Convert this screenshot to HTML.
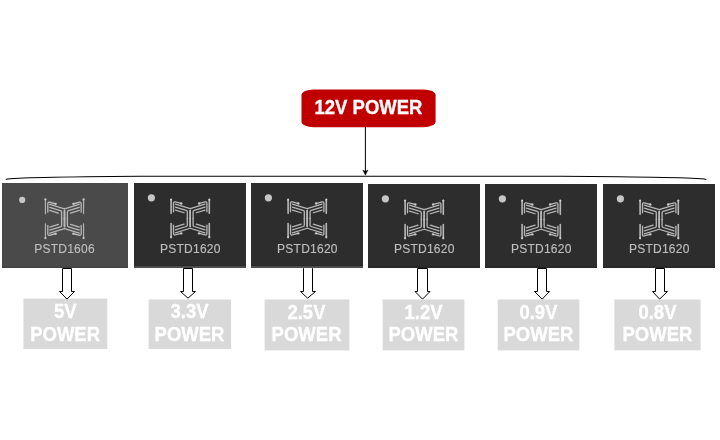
<!DOCTYPE html>
<html><head><meta charset="utf-8"><title>Power tree</title>
<style>html,body{margin:0;padding:0;background:#fff;width:720px;height:440px;overflow:hidden;font-family:"Liberation Sans",sans-serif;}svg{display:block;will-change:transform}</style>
</head><body>
<svg width="720" height="440" viewBox="0 0 720 440">
<rect x="301.5" y="89.4" width="134.1" height="37.9" rx="12" ry="5.8" fill="#c00000"/>
<text transform="translate(368.5,113.9) scale(1,1.077)" font-family="Liberation Sans" font-weight="bold" font-size="18.5" fill="#fff" stroke="#fff" stroke-width="0.3" text-anchor="middle">12V POWER</text>
<line x1="365.4" y1="127" x2="365.4" y2="172" stroke="#000" stroke-width="1"/>
<path d="M362.8,170 L365.4,175.2 L368,170 L365.4,171.3 Z" fill="#000" stroke="#000" stroke-width="0.4" stroke-linejoin="round"/>
<path d="M5.8,179.4 C14,177.7 50,176.85 140,176.3 L560,176.3 C660,176.9 695,177.5 706.3,179.4" fill="none" stroke="#000" stroke-width="1.05"/>
<rect x="2" y="183" width="126" height="85" fill="#4a4a4a"/>
<rect x="2" y="266.5" width="126" height="1.5" fill="#424242"/>
<circle cx="22.2" cy="199.9" r="3.1" fill="#c6c6c6"/>
<g fill="none" stroke="#b8b8b8" stroke-linecap="round" stroke-linejoin="round"><g transform="translate(64.5,218.75) scale(1,1)"><path d="M-19.1,-19.2 V-5.1" stroke-width="1.1"/><path d="M-16.7,-6.6 V-15.1 Q-16.7,-16.9 -14.9,-16.5 L-9.3,-15.0" stroke-width="1.3"/><path d="M-14.8,-14.4 L0,-9.8" stroke-width="1.3"/><path d="M0,-7.9 V0.1" stroke-width="1.6"/><path d="M-14.8,-11.4 L-4.0,-8.05 Q-2.9,-7.7 -2.9,-6.7 V0.1" stroke-width="1.3"/><path d="M-14.8,-8.4 L-6.1,-5.7" stroke-width="1.3"/><circle cx="-8.9" cy="-14.9" r="1.2" fill="#c8c8c8" stroke="none"/><circle cx="-19.1" cy="-19.3" r="1.15" fill="#c8c8c8" stroke="none"/></g><g transform="translate(64.5,218.75) scale(-1,1)"><path d="M-19.1,-19.2 V-5.1" stroke-width="1.1"/><path d="M-16.7,-6.6 V-15.1 Q-16.7,-16.9 -14.9,-16.5 L-9.3,-15.0" stroke-width="1.3"/><path d="M-14.8,-14.4 L0,-9.8" stroke-width="1.3"/><path d="M0,-7.9 V0.1" stroke-width="1.6"/><path d="M-14.8,-11.4 L-4.0,-8.05 Q-2.9,-7.7 -2.9,-6.7 V0.1" stroke-width="1.3"/><path d="M-14.8,-8.4 L-6.1,-5.7" stroke-width="1.3"/><circle cx="-8.9" cy="-14.9" r="1.2" fill="#c8c8c8" stroke="none"/><circle cx="-19.1" cy="-19.3" r="1.15" fill="#c8c8c8" stroke="none"/></g><g transform="translate(64.5,218.75) scale(1,-1)"><path d="M-19.1,-19.2 V-5.1" stroke-width="1.1"/><path d="M-16.7,-6.6 V-15.1 Q-16.7,-16.9 -14.9,-16.5 L-9.3,-15.0" stroke-width="1.3"/><path d="M-14.8,-14.4 L0,-9.8" stroke-width="1.3"/><path d="M0,-7.9 V0.1" stroke-width="1.6"/><path d="M-14.8,-11.4 L-4.0,-8.05 Q-2.9,-7.7 -2.9,-6.7 V0.1" stroke-width="1.3"/><path d="M-14.8,-8.4 L-6.1,-5.7" stroke-width="1.3"/><circle cx="-8.9" cy="-14.9" r="1.2" fill="#c8c8c8" stroke="none"/><circle cx="-19.1" cy="-19.3" r="1.15" fill="#c8c8c8" stroke="none"/></g><g transform="translate(64.5,218.75) scale(-1,-1)"><path d="M-19.1,-19.2 V-5.1" stroke-width="1.1"/><path d="M-16.7,-6.6 V-15.1 Q-16.7,-16.9 -14.9,-16.5 L-9.3,-15.0" stroke-width="1.3"/><path d="M-14.8,-14.4 L0,-9.8" stroke-width="1.3"/><path d="M0,-7.9 V0.1" stroke-width="1.6"/><path d="M-14.8,-11.4 L-4.0,-8.05 Q-2.9,-7.7 -2.9,-6.7 V0.1" stroke-width="1.3"/><path d="M-14.8,-8.4 L-6.1,-5.7" stroke-width="1.3"/><circle cx="-8.9" cy="-14.9" r="1.2" fill="#c8c8c8" stroke="none"/><circle cx="-19.1" cy="-19.3" r="1.15" fill="#c8c8c8" stroke="none"/></g></g>
<text x="64.5" y="253" font-family="Liberation Sans" font-size="12" letter-spacing="0.25" fill="#bebebe" stroke="#bebebe" stroke-width="0.15" text-anchor="middle">PSTD1606</text>
<rect x="134" y="183" width="112" height="85" fill="#2d2d2d"/>
<rect x="134" y="265" width="112" height="1" fill="#282828"/>
<rect x="134" y="266" width="112" height="2" fill="#4d4d4d"/>
<circle cx="151.4" cy="197.85" r="3.6" fill="#c6c6c6"/>
<g fill="none" stroke="#b8b8b8" stroke-linecap="round" stroke-linejoin="round"><g transform="translate(190.2,218.45) scale(1,1)"><path d="M-19.1,-19.2 V-5.1" stroke-width="1.6"/><path d="M-16.7,-6.6 V-15.1 Q-16.7,-16.9 -14.9,-16.5 L-9.3,-15.0" stroke-width="1.3"/><path d="M-14.8,-14.4 L0,-9.8" stroke-width="1.3"/><path d="M0,-7.9 V0.1" stroke-width="1.6"/><path d="M-14.8,-11.4 L-4.0,-8.05 Q-2.9,-7.7 -2.9,-6.7 V0.1" stroke-width="1.3"/><path d="M-14.8,-8.4 L-6.1,-5.7" stroke-width="1.3"/><circle cx="-8.9" cy="-14.9" r="1.2" fill="#c8c8c8" stroke="none"/><circle cx="-19.1" cy="-18.6" r="1.0" fill="#d0d0d0" stroke="none"/></g><g transform="translate(190.2,218.45) scale(-1,1)"><path d="M-19.1,-19.2 V-5.1" stroke-width="1.6"/><path d="M-16.7,-6.6 V-15.1 Q-16.7,-16.9 -14.9,-16.5 L-9.3,-15.0" stroke-width="1.3"/><path d="M-14.8,-14.4 L0,-9.8" stroke-width="1.3"/><path d="M0,-7.9 V0.1" stroke-width="1.6"/><path d="M-14.8,-11.4 L-4.0,-8.05 Q-2.9,-7.7 -2.9,-6.7 V0.1" stroke-width="1.3"/><path d="M-14.8,-8.4 L-6.1,-5.7" stroke-width="1.3"/><circle cx="-8.9" cy="-14.9" r="1.2" fill="#c8c8c8" stroke="none"/><circle cx="-19.1" cy="-18.6" r="1.0" fill="#d0d0d0" stroke="none"/></g><g transform="translate(190.2,218.45) scale(1,-1)"><path d="M-19.1,-19.2 V-5.1" stroke-width="1.6"/><path d="M-16.7,-6.6 V-15.1 Q-16.7,-16.9 -14.9,-16.5 L-9.3,-15.0" stroke-width="1.3"/><path d="M-14.8,-14.4 L0,-9.8" stroke-width="1.3"/><path d="M0,-7.9 V0.1" stroke-width="1.6"/><path d="M-14.8,-11.4 L-4.0,-8.05 Q-2.9,-7.7 -2.9,-6.7 V0.1" stroke-width="1.3"/><path d="M-14.8,-8.4 L-6.1,-5.7" stroke-width="1.3"/><circle cx="-8.9" cy="-14.9" r="1.2" fill="#c8c8c8" stroke="none"/><circle cx="-19.1" cy="-18.6" r="1.0" fill="#d0d0d0" stroke="none"/></g><g transform="translate(190.2,218.45) scale(-1,-1)"><path d="M-19.1,-19.2 V-5.1" stroke-width="1.6"/><path d="M-16.7,-6.6 V-15.1 Q-16.7,-16.9 -14.9,-16.5 L-9.3,-15.0" stroke-width="1.3"/><path d="M-14.8,-14.4 L0,-9.8" stroke-width="1.3"/><path d="M0,-7.9 V0.1" stroke-width="1.6"/><path d="M-14.8,-11.4 L-4.0,-8.05 Q-2.9,-7.7 -2.9,-6.7 V0.1" stroke-width="1.3"/><path d="M-14.8,-8.4 L-6.1,-5.7" stroke-width="1.3"/><circle cx="-8.9" cy="-14.9" r="1.2" fill="#c8c8c8" stroke="none"/><circle cx="-19.1" cy="-18.6" r="1.0" fill="#d0d0d0" stroke="none"/></g></g>
<text x="190.35" y="252.8" font-family="Liberation Sans" font-size="12" letter-spacing="0.25" fill="#bebebe" stroke="#bebebe" stroke-width="0.15" text-anchor="middle">PSTD1620</text>
<rect x="251" y="183" width="112" height="85" fill="#2d2d2d"/>
<rect x="251" y="265" width="112" height="1" fill="#282828"/>
<rect x="251" y="266" width="112" height="2" fill="#4d4d4d"/>
<circle cx="268.4" cy="197.85" r="3.6" fill="#c6c6c6"/>
<g fill="none" stroke="#b8b8b8" stroke-linecap="round" stroke-linejoin="round"><g transform="translate(307.2,218.45) scale(1,1)"><path d="M-19.1,-19.2 V-5.1" stroke-width="1.6"/><path d="M-16.7,-6.6 V-15.1 Q-16.7,-16.9 -14.9,-16.5 L-9.3,-15.0" stroke-width="1.3"/><path d="M-14.8,-14.4 L0,-9.8" stroke-width="1.3"/><path d="M0,-7.9 V0.1" stroke-width="1.6"/><path d="M-14.8,-11.4 L-4.0,-8.05 Q-2.9,-7.7 -2.9,-6.7 V0.1" stroke-width="1.3"/><path d="M-14.8,-8.4 L-6.1,-5.7" stroke-width="1.3"/><circle cx="-8.9" cy="-14.9" r="1.2" fill="#c8c8c8" stroke="none"/><circle cx="-19.1" cy="-18.6" r="1.0" fill="#d0d0d0" stroke="none"/></g><g transform="translate(307.2,218.45) scale(-1,1)"><path d="M-19.1,-19.2 V-5.1" stroke-width="1.6"/><path d="M-16.7,-6.6 V-15.1 Q-16.7,-16.9 -14.9,-16.5 L-9.3,-15.0" stroke-width="1.3"/><path d="M-14.8,-14.4 L0,-9.8" stroke-width="1.3"/><path d="M0,-7.9 V0.1" stroke-width="1.6"/><path d="M-14.8,-11.4 L-4.0,-8.05 Q-2.9,-7.7 -2.9,-6.7 V0.1" stroke-width="1.3"/><path d="M-14.8,-8.4 L-6.1,-5.7" stroke-width="1.3"/><circle cx="-8.9" cy="-14.9" r="1.2" fill="#c8c8c8" stroke="none"/><circle cx="-19.1" cy="-18.6" r="1.0" fill="#d0d0d0" stroke="none"/></g><g transform="translate(307.2,218.45) scale(1,-1)"><path d="M-19.1,-19.2 V-5.1" stroke-width="1.6"/><path d="M-16.7,-6.6 V-15.1 Q-16.7,-16.9 -14.9,-16.5 L-9.3,-15.0" stroke-width="1.3"/><path d="M-14.8,-14.4 L0,-9.8" stroke-width="1.3"/><path d="M0,-7.9 V0.1" stroke-width="1.6"/><path d="M-14.8,-11.4 L-4.0,-8.05 Q-2.9,-7.7 -2.9,-6.7 V0.1" stroke-width="1.3"/><path d="M-14.8,-8.4 L-6.1,-5.7" stroke-width="1.3"/><circle cx="-8.9" cy="-14.9" r="1.2" fill="#c8c8c8" stroke="none"/><circle cx="-19.1" cy="-18.6" r="1.0" fill="#d0d0d0" stroke="none"/></g><g transform="translate(307.2,218.45) scale(-1,-1)"><path d="M-19.1,-19.2 V-5.1" stroke-width="1.6"/><path d="M-16.7,-6.6 V-15.1 Q-16.7,-16.9 -14.9,-16.5 L-9.3,-15.0" stroke-width="1.3"/><path d="M-14.8,-14.4 L0,-9.8" stroke-width="1.3"/><path d="M0,-7.9 V0.1" stroke-width="1.6"/><path d="M-14.8,-11.4 L-4.0,-8.05 Q-2.9,-7.7 -2.9,-6.7 V0.1" stroke-width="1.3"/><path d="M-14.8,-8.4 L-6.1,-5.7" stroke-width="1.3"/><circle cx="-8.9" cy="-14.9" r="1.2" fill="#c8c8c8" stroke="none"/><circle cx="-19.1" cy="-18.6" r="1.0" fill="#d0d0d0" stroke="none"/></g></g>
<text x="307.4" y="253.3" font-family="Liberation Sans" font-size="12" letter-spacing="0.25" fill="#bebebe" stroke="#bebebe" stroke-width="0.15" text-anchor="middle">PSTD1620</text>
<rect x="368" y="184" width="112" height="84" fill="#2d2d2d"/>
<rect x="368" y="266.5" width="112" height="1.5" fill="#272727"/>
<circle cx="385.4" cy="198.85" r="3.6" fill="#c6c6c6"/>
<g fill="none" stroke="#b8b8b8" stroke-linecap="round" stroke-linejoin="round"><g transform="translate(424.2,219.45) scale(1,1)"><path d="M-19.1,-19.2 V-5.1" stroke-width="1.6"/><path d="M-16.7,-6.6 V-15.1 Q-16.7,-16.9 -14.9,-16.5 L-9.3,-15.0" stroke-width="1.3"/><path d="M-14.8,-14.4 L0,-9.8" stroke-width="1.3"/><path d="M0,-7.9 V0.1" stroke-width="1.6"/><path d="M-14.8,-11.4 L-4.0,-8.05 Q-2.9,-7.7 -2.9,-6.7 V0.1" stroke-width="1.3"/><path d="M-14.8,-8.4 L-6.1,-5.7" stroke-width="1.3"/><circle cx="-8.9" cy="-14.9" r="1.2" fill="#c8c8c8" stroke="none"/><circle cx="-19.1" cy="-18.6" r="1.0" fill="#d0d0d0" stroke="none"/></g><g transform="translate(424.2,219.45) scale(-1,1)"><path d="M-19.1,-19.2 V-5.1" stroke-width="1.6"/><path d="M-16.7,-6.6 V-15.1 Q-16.7,-16.9 -14.9,-16.5 L-9.3,-15.0" stroke-width="1.3"/><path d="M-14.8,-14.4 L0,-9.8" stroke-width="1.3"/><path d="M0,-7.9 V0.1" stroke-width="1.6"/><path d="M-14.8,-11.4 L-4.0,-8.05 Q-2.9,-7.7 -2.9,-6.7 V0.1" stroke-width="1.3"/><path d="M-14.8,-8.4 L-6.1,-5.7" stroke-width="1.3"/><circle cx="-8.9" cy="-14.9" r="1.2" fill="#c8c8c8" stroke="none"/><circle cx="-19.1" cy="-18.6" r="1.0" fill="#d0d0d0" stroke="none"/></g><g transform="translate(424.2,219.45) scale(1,-1)"><path d="M-19.1,-19.2 V-5.1" stroke-width="1.6"/><path d="M-16.7,-6.6 V-15.1 Q-16.7,-16.9 -14.9,-16.5 L-9.3,-15.0" stroke-width="1.3"/><path d="M-14.8,-14.4 L0,-9.8" stroke-width="1.3"/><path d="M0,-7.9 V0.1" stroke-width="1.6"/><path d="M-14.8,-11.4 L-4.0,-8.05 Q-2.9,-7.7 -2.9,-6.7 V0.1" stroke-width="1.3"/><path d="M-14.8,-8.4 L-6.1,-5.7" stroke-width="1.3"/><circle cx="-8.9" cy="-14.9" r="1.2" fill="#c8c8c8" stroke="none"/><circle cx="-19.1" cy="-18.6" r="1.0" fill="#d0d0d0" stroke="none"/></g><g transform="translate(424.2,219.45) scale(-1,-1)"><path d="M-19.1,-19.2 V-5.1" stroke-width="1.6"/><path d="M-16.7,-6.6 V-15.1 Q-16.7,-16.9 -14.9,-16.5 L-9.3,-15.0" stroke-width="1.3"/><path d="M-14.8,-14.4 L0,-9.8" stroke-width="1.3"/><path d="M0,-7.9 V0.1" stroke-width="1.6"/><path d="M-14.8,-11.4 L-4.0,-8.05 Q-2.9,-7.7 -2.9,-6.7 V0.1" stroke-width="1.3"/><path d="M-14.8,-8.4 L-6.1,-5.7" stroke-width="1.3"/><circle cx="-8.9" cy="-14.9" r="1.2" fill="#c8c8c8" stroke="none"/><circle cx="-19.1" cy="-18.6" r="1.0" fill="#d0d0d0" stroke="none"/></g></g>
<text x="424.25" y="253.1" font-family="Liberation Sans" font-size="12" letter-spacing="0.25" fill="#bebebe" stroke="#bebebe" stroke-width="0.15" text-anchor="middle">PSTD1620</text>
<rect x="485" y="184" width="112" height="84" fill="#2d2d2d"/>
<rect x="485" y="266.5" width="112" height="1.5" fill="#272727"/>
<circle cx="502.4" cy="198.85" r="3.6" fill="#c6c6c6"/>
<g fill="none" stroke="#b8b8b8" stroke-linecap="round" stroke-linejoin="round"><g transform="translate(541.2,219.45) scale(1,1)"><path d="M-19.1,-19.2 V-5.1" stroke-width="1.6"/><path d="M-16.7,-6.6 V-15.1 Q-16.7,-16.9 -14.9,-16.5 L-9.3,-15.0" stroke-width="1.3"/><path d="M-14.8,-14.4 L0,-9.8" stroke-width="1.3"/><path d="M0,-7.9 V0.1" stroke-width="1.6"/><path d="M-14.8,-11.4 L-4.0,-8.05 Q-2.9,-7.7 -2.9,-6.7 V0.1" stroke-width="1.3"/><path d="M-14.8,-8.4 L-6.1,-5.7" stroke-width="1.3"/><circle cx="-8.9" cy="-14.9" r="1.2" fill="#c8c8c8" stroke="none"/><circle cx="-19.1" cy="-18.6" r="1.0" fill="#d0d0d0" stroke="none"/></g><g transform="translate(541.2,219.45) scale(-1,1)"><path d="M-19.1,-19.2 V-5.1" stroke-width="1.6"/><path d="M-16.7,-6.6 V-15.1 Q-16.7,-16.9 -14.9,-16.5 L-9.3,-15.0" stroke-width="1.3"/><path d="M-14.8,-14.4 L0,-9.8" stroke-width="1.3"/><path d="M0,-7.9 V0.1" stroke-width="1.6"/><path d="M-14.8,-11.4 L-4.0,-8.05 Q-2.9,-7.7 -2.9,-6.7 V0.1" stroke-width="1.3"/><path d="M-14.8,-8.4 L-6.1,-5.7" stroke-width="1.3"/><circle cx="-8.9" cy="-14.9" r="1.2" fill="#c8c8c8" stroke="none"/><circle cx="-19.1" cy="-18.6" r="1.0" fill="#d0d0d0" stroke="none"/></g><g transform="translate(541.2,219.45) scale(1,-1)"><path d="M-19.1,-19.2 V-5.1" stroke-width="1.6"/><path d="M-16.7,-6.6 V-15.1 Q-16.7,-16.9 -14.9,-16.5 L-9.3,-15.0" stroke-width="1.3"/><path d="M-14.8,-14.4 L0,-9.8" stroke-width="1.3"/><path d="M0,-7.9 V0.1" stroke-width="1.6"/><path d="M-14.8,-11.4 L-4.0,-8.05 Q-2.9,-7.7 -2.9,-6.7 V0.1" stroke-width="1.3"/><path d="M-14.8,-8.4 L-6.1,-5.7" stroke-width="1.3"/><circle cx="-8.9" cy="-14.9" r="1.2" fill="#c8c8c8" stroke="none"/><circle cx="-19.1" cy="-18.6" r="1.0" fill="#d0d0d0" stroke="none"/></g><g transform="translate(541.2,219.45) scale(-1,-1)"><path d="M-19.1,-19.2 V-5.1" stroke-width="1.6"/><path d="M-16.7,-6.6 V-15.1 Q-16.7,-16.9 -14.9,-16.5 L-9.3,-15.0" stroke-width="1.3"/><path d="M-14.8,-14.4 L0,-9.8" stroke-width="1.3"/><path d="M0,-7.9 V0.1" stroke-width="1.6"/><path d="M-14.8,-11.4 L-4.0,-8.05 Q-2.9,-7.7 -2.9,-6.7 V0.1" stroke-width="1.3"/><path d="M-14.8,-8.4 L-6.1,-5.7" stroke-width="1.3"/><circle cx="-8.9" cy="-14.9" r="1.2" fill="#c8c8c8" stroke="none"/><circle cx="-19.1" cy="-18.6" r="1.0" fill="#d0d0d0" stroke="none"/></g></g>
<text x="541.25" y="253.1" font-family="Liberation Sans" font-size="12" letter-spacing="0.25" fill="#bebebe" stroke="#bebebe" stroke-width="0.15" text-anchor="middle">PSTD1620</text>
<rect x="603" y="184" width="112" height="84" fill="#2d2d2d"/>
<rect x="603" y="266.5" width="112" height="1.5" fill="#272727"/>
<circle cx="620.4" cy="198.85" r="3.6" fill="#c6c6c6"/>
<g fill="none" stroke="#b8b8b8" stroke-linecap="round" stroke-linejoin="round"><g transform="translate(659.2,219.45) scale(1,1)"><path d="M-19.1,-19.2 V-5.1" stroke-width="1.6"/><path d="M-16.7,-6.6 V-15.1 Q-16.7,-16.9 -14.9,-16.5 L-9.3,-15.0" stroke-width="1.3"/><path d="M-14.8,-14.4 L0,-9.8" stroke-width="1.3"/><path d="M0,-7.9 V0.1" stroke-width="1.6"/><path d="M-14.8,-11.4 L-4.0,-8.05 Q-2.9,-7.7 -2.9,-6.7 V0.1" stroke-width="1.3"/><path d="M-14.8,-8.4 L-6.1,-5.7" stroke-width="1.3"/><circle cx="-8.9" cy="-14.9" r="1.2" fill="#c8c8c8" stroke="none"/><circle cx="-19.1" cy="-18.6" r="1.0" fill="#d0d0d0" stroke="none"/></g><g transform="translate(659.2,219.45) scale(-1,1)"><path d="M-19.1,-19.2 V-5.1" stroke-width="1.6"/><path d="M-16.7,-6.6 V-15.1 Q-16.7,-16.9 -14.9,-16.5 L-9.3,-15.0" stroke-width="1.3"/><path d="M-14.8,-14.4 L0,-9.8" stroke-width="1.3"/><path d="M0,-7.9 V0.1" stroke-width="1.6"/><path d="M-14.8,-11.4 L-4.0,-8.05 Q-2.9,-7.7 -2.9,-6.7 V0.1" stroke-width="1.3"/><path d="M-14.8,-8.4 L-6.1,-5.7" stroke-width="1.3"/><circle cx="-8.9" cy="-14.9" r="1.2" fill="#c8c8c8" stroke="none"/><circle cx="-19.1" cy="-18.6" r="1.0" fill="#d0d0d0" stroke="none"/></g><g transform="translate(659.2,219.45) scale(1,-1)"><path d="M-19.1,-19.2 V-5.1" stroke-width="1.6"/><path d="M-16.7,-6.6 V-15.1 Q-16.7,-16.9 -14.9,-16.5 L-9.3,-15.0" stroke-width="1.3"/><path d="M-14.8,-14.4 L0,-9.8" stroke-width="1.3"/><path d="M0,-7.9 V0.1" stroke-width="1.6"/><path d="M-14.8,-11.4 L-4.0,-8.05 Q-2.9,-7.7 -2.9,-6.7 V0.1" stroke-width="1.3"/><path d="M-14.8,-8.4 L-6.1,-5.7" stroke-width="1.3"/><circle cx="-8.9" cy="-14.9" r="1.2" fill="#c8c8c8" stroke="none"/><circle cx="-19.1" cy="-18.6" r="1.0" fill="#d0d0d0" stroke="none"/></g><g transform="translate(659.2,219.45) scale(-1,-1)"><path d="M-19.1,-19.2 V-5.1" stroke-width="1.6"/><path d="M-16.7,-6.6 V-15.1 Q-16.7,-16.9 -14.9,-16.5 L-9.3,-15.0" stroke-width="1.3"/><path d="M-14.8,-14.4 L0,-9.8" stroke-width="1.3"/><path d="M0,-7.9 V0.1" stroke-width="1.6"/><path d="M-14.8,-11.4 L-4.0,-8.05 Q-2.9,-7.7 -2.9,-6.7 V0.1" stroke-width="1.3"/><path d="M-14.8,-8.4 L-6.1,-5.7" stroke-width="1.3"/><circle cx="-8.9" cy="-14.9" r="1.2" fill="#c8c8c8" stroke="none"/><circle cx="-19.1" cy="-18.6" r="1.0" fill="#d0d0d0" stroke="none"/></g></g>
<text x="659.25" y="253.1" font-family="Liberation Sans" font-size="12" letter-spacing="0.25" fill="#bebebe" stroke="#bebebe" stroke-width="0.15" text-anchor="middle">PSTD1620</text>
<rect x="23.4" y="298.6" width="83.90" height="50.40" fill="#d9d9d9"/>
<text transform="translate(65.3,318) scale(1,1.077)" font-family="Liberation Sans" font-weight="bold" font-size="18.5" fill="#fff" stroke="#fff" stroke-width="0.3" text-anchor="middle">5V</text>
<text transform="translate(65.1,341.1) scale(1,1.077)" font-family="Liberation Sans" font-weight="bold" font-size="18.5" fill="#fff" stroke="#fff" stroke-width="0.3" text-anchor="middle">POWER</text>
<rect x="148.6" y="299.5" width="82.50" height="49.50" fill="#d9d9d9"/>
<text transform="translate(189.6,318) scale(1,1.077)" font-family="Liberation Sans" font-weight="bold" font-size="18.5" fill="#fff" stroke="#fff" stroke-width="0.3" text-anchor="middle">3.3V</text>
<text transform="translate(189.5,341.1) scale(1,1.077)" font-family="Liberation Sans" font-weight="bold" font-size="18.5" fill="#fff" stroke="#fff" stroke-width="0.3" text-anchor="middle">POWER</text>
<rect x="264.6" y="299.5" width="84.80" height="50.90" fill="#d9d9d9"/>
<text transform="translate(306.45,319) scale(1,1.077)" font-family="Liberation Sans" font-weight="bold" font-size="18.5" fill="#fff" stroke="#fff" stroke-width="0.3" text-anchor="middle">2.5V</text>
<text transform="translate(306.55,341.1) scale(1,1.077)" font-family="Liberation Sans" font-weight="bold" font-size="18.5" fill="#fff" stroke="#fff" stroke-width="0.3" text-anchor="middle">POWER</text>
<rect x="382.6" y="299.5" width="81.80" height="50.90" fill="#d9d9d9"/>
<text transform="translate(423.5,319) scale(1,1.077)" font-family="Liberation Sans" font-weight="bold" font-size="18.5" fill="#fff" stroke="#fff" stroke-width="0.3" text-anchor="middle">1.2V</text>
<text transform="translate(423.4,341.1) scale(1,1.077)" font-family="Liberation Sans" font-weight="bold" font-size="18.5" fill="#fff" stroke="#fff" stroke-width="0.3" text-anchor="middle">POWER</text>
<rect x="497.7" y="299.5" width="81.70" height="50.90" fill="#d9d9d9"/>
<text transform="translate(538.45,319) scale(1,1.077)" font-family="Liberation Sans" font-weight="bold" font-size="18.5" fill="#fff" stroke="#fff" stroke-width="0.3" text-anchor="middle">0.9V</text>
<text transform="translate(538.4,341.1) scale(1,1.077)" font-family="Liberation Sans" font-weight="bold" font-size="18.5" fill="#fff" stroke="#fff" stroke-width="0.3" text-anchor="middle">POWER</text>
<rect x="614.4" y="299.5" width="86.20" height="50.80" fill="#d9d9d9"/>
<text transform="translate(657.45,319) scale(1,1.077)" font-family="Liberation Sans" font-weight="bold" font-size="18.5" fill="#fff" stroke="#fff" stroke-width="0.3" text-anchor="middle">0.8V</text>
<text transform="translate(657.4,341.1) scale(1,1.077)" font-family="Liberation Sans" font-weight="bold" font-size="18.5" fill="#fff" stroke="#fff" stroke-width="0.3" text-anchor="middle">POWER</text>
<path d="M62.5,268.5 H71.5 V291.5 H74.5 L67,299.1 L59.5,291.5 H62.5 Z" fill="#fff" stroke="#000" stroke-width="1" stroke-miterlimit="10"/>
<path d="M183.5,268.5 H192.5 V291.5 H195.5 L188,298.2 L180.5,291.5 H183.5 Z" fill="#fff" stroke="#000" stroke-width="1" stroke-miterlimit="10"/>
<path d="M303.5,268.5 H312.5 V291.5 H315.5 L307.6,298.2 L300.5,291.5 H303.5 Z" fill="#fff" stroke="#000" stroke-width="1" stroke-miterlimit="10"/>
<rect x="304.0" y="268" width="8.0" height="1" fill="#fff"/>
<path d="M417.5,268.5 H427.5 V291.5 H430.0 L422.5,299.1 L415.0,291.5 H417.5 Z" fill="#fff" stroke="#000" stroke-width="1" stroke-miterlimit="10"/>
<path d="M537.5,268.5 H546.5 V291.5 H549.5 L542.2,299.1 L534.5,291.5 H537.5 Z" fill="#fff" stroke="#000" stroke-width="1" stroke-miterlimit="10"/>
<path d="M655.5,268.5 H664.5 V291.5 H667.5 L659.6,299.1 L652.5,291.5 H655.5 Z" fill="#fff" stroke="#000" stroke-width="1" stroke-miterlimit="10"/>
</svg>
</body></html>
